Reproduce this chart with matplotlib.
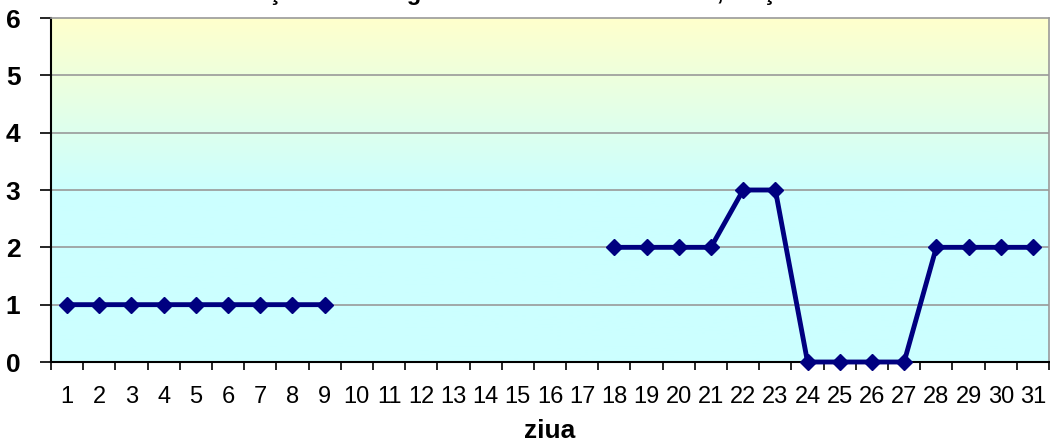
import numpy as np
import matplotlib
matplotlib.use("Agg")
import matplotlib.pyplot as plt
from matplotlib.colors import LinearSegmentedColormap

# daily values; None = no data
days = list(range(1, 32))
values = [1, 1, 1, 1, 1, 1, 1, 1, 1,
          None, None, None, None, None, None, None, None,
          2, 2, 2, 2, 3, 3, 0, 0, 0, 0, 2, 2, 2, 2]
title = "Evoluţia indicelui general de calitate a aerului, staţia AG-1"
xlabel = "ziua"

plt.rcParams['font.family'] = ['Liberation Sans', 'DejaVu Sans']

fig = plt.figure(figsize=(10.5, 4.47), dpi=100)
ax = fig.add_axes([51 / 1050, 85 / 447, 998 / 1050, 344 / 447])

y = np.array([np.nan if v is None else v for v in values], dtype=float)

# background gradient (yellow top -> cyan bottom)
grad = LinearSegmentedColormap.from_list("bg", ["#ccffff", "#ccffff", "#ffffcc"], N=256)
ax.imshow(np.linspace(0, 1, 256).reshape(-1, 1), cmap=grad, origin="lower",
          extent=[0.5, 31.5, 0, 6], aspect="auto", zorder=0)

for g in range(1, 6):
    ax.axhline(g, color="#999999", lw=1.2, zorder=1)

ax.plot(days, y, color="#000080", lw=3.5, marker="D", ms=8, zorder=3, clip_on=False)

ax.set_xlim(0.5, 31.5)
ax.set_ylim(0, 6)
ax.set_yticks(range(0, 7))
ax.set_yticklabels([str(i) for i in range(0, 7)], fontsize=19, fontweight="bold")
ax.set_xticks(days)
ax.set_xticklabels([str(d) for d in days], fontsize=17)
ax.set_xticks(np.arange(0.5, 32, 1), minor=True)
ax.tick_params(axis="x", which="major", length=0, pad=17)
ax.tick_params(axis="x", which="minor", length=6, width=1.2, color="black", direction="out")
ax.tick_params(axis="y", length=8, width=1.2, pad=14)

for s in ["left", "bottom"]:
    ax.spines[s].set_color("black")
    ax.spines[s].set_linewidth(1.5)
for s in ["top", "right"]:
    ax.spines[s].set_color("#999999")
    ax.spines[s].set_linewidth(1.2)

ax.set_xlabel(xlabel, fontsize=19, fontweight="bold", labelpad=8)

fig.text(0.505, 1 + 0 / 447, title, ha="center", va="baseline",
         fontsize=17, fontweight="bold")

fig.savefig("out.png", dpi=100)
